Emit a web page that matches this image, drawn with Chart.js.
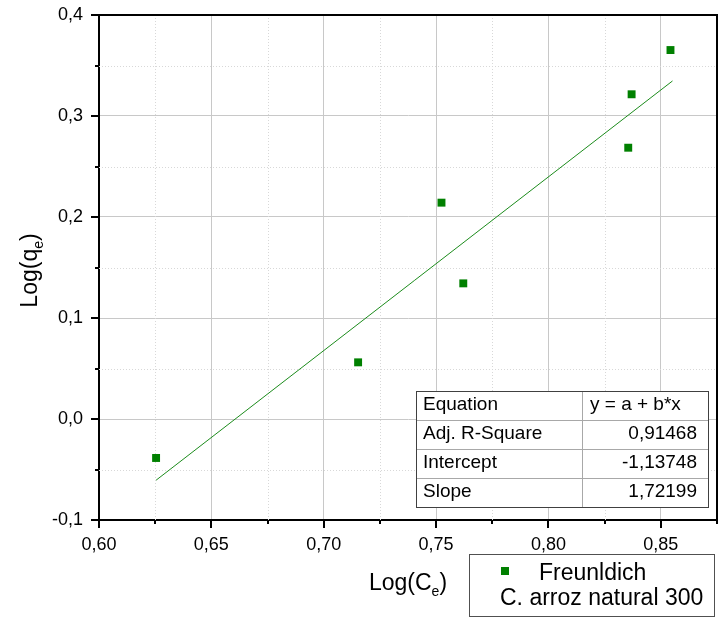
<!DOCTYPE html>
<html>
<head>
<meta charset="utf-8">
<script src="https://cdn.jsdelivr.net/npm/chart.js@4/dist/chart.umd.min.js"></script>
<style>
html,body{margin:0;padding:0;background:#fff;}
canvas{display:block;}
</style>
</head>
<body>
<canvas id="c" width="719" height="619"></canvas>
<script>
// ---- data ----
const logCe = [0.6254, 0.7153, 0.7524, 0.7621, 0.8355, 0.8370, 0.8543];
const logQe = [-0.0386, 0.0561, 0.2142, 0.1343, 0.2686, 0.3215, 0.3653];
const fitX = [0.6254, 0.8552];
const fitY = [-0.0606, 0.3347];
const seriesName = 'Freunldich';
const legendSub = 'C. arroz natural 300';
const tableRows = [
  ['Equation', 'y = a + b*x'],
  ['Adj. R-Square', '0,91468'],
  ['Intercept', '-1,13748'],
  ['Slope', '1,72199']
];
const xMin = 0.60, xMax = 0.875, xStep = 0.025;
const yMin = -0.1, yMax = 0.4, yStep = 0.05;

const FONT = '"Liberation Sans", Arial, sans-serif';
const GREEN = '#008000';

function isMajorX(v){ const k = Math.round(v*1000); return k % 50 === 0; }
function isMajorY(v){ const k = Math.round(v*1000); return k % 100 === 0; }

const decor = {
  id: 'decor',
  beforeDraw(chart){
    const c = chart.ctx;
    c.save(); c.fillStyle = '#fff'; c.fillRect(0,0,chart.width,chart.height); c.restore();
  },
  beforeDatasetsDraw(chart){
    const c = chart.ctx, a = chart.chartArea;
    const xs = chart.scales.x, ys = chart.scales.y;
    c.save();
    c.strokeStyle = '#d8d8d8';
    c.lineWidth = 1;
    c.setLineDash([1,2]);
    xs.ticks.forEach(t => {
      if (!isMajorX(t.value)) {
        const px = Math.round(xs.getPixelForValue(t.value)) + 0.5;
        if (px < a.right - 2) { c.beginPath(); c.moveTo(px, a.top); c.lineTo(px, a.bottom); c.stroke(); }
      }
    });
    ys.ticks.forEach(t => {
      if (!isMajorY(t.value)) {
        const py = Math.round(ys.getPixelForValue(t.value)) + 0.5;
        c.beginPath(); c.moveTo(a.left, py); c.lineTo(a.right, py); c.stroke();
      }
    });
    c.restore();
  },
  afterDraw(chart){
    const c = chart.ctx, a = chart.chartArea;
    const xs = chart.scales.x, ys = chart.scales.y;
    c.save();
    // frame top/right
    c.strokeStyle = '#000'; c.lineWidth = 2; c.setLineDash([]);
    c.beginPath(); c.moveTo(a.left, a.top); c.lineTo(a.right, a.top); c.lineTo(a.right, a.bottom); c.stroke();
    // ticks
    xs.ticks.forEach(t => {
      const px = Math.round(xs.getPixelForValue(t.value));
      const len = isMajorX(t.value) ? 8 : 4;
      c.beginPath(); c.moveTo(px, a.bottom); c.lineTo(px, a.bottom + len); c.stroke();
    });
    ys.ticks.forEach(t => {
      const py = Math.round(ys.getPixelForValue(t.value));
      const len = isMajorY(t.value) ? 8 : 4;
      c.beginPath(); c.moveTo(a.left, py); c.lineTo(a.left - len, py); c.stroke();
    });
    // axis titles with subscripts
    function subTitle(main, sub, x, y, rotate){
      c.save();
      c.translate(x, y);
      if (rotate) c.rotate(-Math.PI/2);
      c.fillStyle = '#000';
      c.textBaseline = 'alphabetic';
      c.font = '23px ' + FONT;
      const w1 = c.measureText(main).width;
      c.font = '14px ' + FONT;
      const w2 = c.measureText(sub).width;
      c.font = '23px ' + FONT;
      const w3 = c.measureText(')').width;
      const total = w1 + w2 + w3;
      let sx = -total/2;
      c.textAlign = 'left';
      c.fillText(main, sx, 0);
      c.font = '14px ' + FONT;
      c.fillText(sub, sx + w1, 6);
      c.font = '23px ' + FONT;
      c.fillText(')', sx + w1 + w2, 0);
      c.restore();
    }
    const cx = (a.left + a.right)/2;
    subTitle('Log(C', 'e', cx, 590, false);
    subTitle('Log(q', 'e', 37, (a.top + a.bottom)/2 + 3, true);

    // fit table
    const tx0 = 416, tx1 = 708, tcol = 582, ty0 = 391, rh = 29;
    c.fillStyle = '#fff';
    c.fillRect(tx0, ty0, tx1 - tx0, rh*tableRows.length);
    c.lineWidth = 1;
    c.strokeStyle = '#a8a8a8';
    for (let i = 1; i < tableRows.length; i++) {
      c.beginPath(); c.moveTo(tx0, ty0 + i*rh + 0.5); c.lineTo(tx1, ty0 + i*rh + 0.5); c.stroke();
    }
    c.beginPath(); c.moveTo(tcol + 0.5, ty0); c.lineTo(tcol + 0.5, ty0 + rh*tableRows.length); c.stroke();
    c.strokeStyle = '#404040';
    c.strokeRect(tx0 + 0.5, ty0 + 0.5, tx1 - tx0, rh*tableRows.length);
    c.fillStyle = '#000';
    c.font = '19px ' + FONT;
    c.textBaseline = 'alphabetic';
    tableRows.forEach((r, i) => {
      const by = ty0 + i*rh + 19;
      c.textAlign = 'left';
      c.fillText(r[0], 423, by);
      if (i === 0) { c.textAlign = 'left'; c.fillText(r[1], 590, by); }
      else { c.textAlign = 'right'; c.fillText(r[1], 697, by); }
    });

    // legend box
    const lx0 = 469, lx1 = 714, ly0 = 554, ly1 = 616;
    c.fillStyle = '#fff';
    c.fillRect(lx0, ly0, lx1 - lx0, ly1 - ly0);
    c.strokeStyle = '#505050';
    c.lineWidth = 1;
    c.strokeRect(lx0 + 0.5, ly0 + 0.5, lx1 - lx0, ly1 - ly0);
    c.fillStyle = GREEN;
    c.fillRect(501, 567, 8, 8);
    c.fillStyle = '#000';
    c.font = '23px ' + FONT;
    c.textAlign = 'left';
    c.fillText(seriesName, 539, 580);
    c.fillText(legendSub, 500, 605);
    c.restore();
  }
};

const scatterData = logCe.map((x, i) => ({x: x, y: logQe[i]}));
const fitData = fitX.map((x, i) => ({x: x, y: fitY[i]}));

const chart = new Chart(document.getElementById('c'), {
  type: 'scatter',
  data: {
    datasets: [
      {
        type: 'line',
        label: 'fit',
        data: fitData,
        borderColor: '#1c8c1c',
        borderWidth: 1,
        pointRadius: 0,
        fill: false,
        tension: 0,
        order: 2
      },
      {
        label: seriesName,
        data: scatterData,
        pointStyle: 'rect',
        pointRadius: 5.6,
        pointHoverRadius: 5.6,
        backgroundColor: GREEN,
        borderColor: GREEN,
        borderWidth: 0,
        order: 1
      }
    ]
  },
  options: {
    responsive: false,
    animation: false,
    events: [],
    layout: { padding: { left: 0, top: 15, right: 2, bottom: 0 } },
    plugins: { legend: { display: false }, tooltip: { enabled: false }, title: { display: false } },
    scales: {
      x: {
        type: 'linear',
        min: xMin, max: xMax,
        afterFit(s){ s.height = 99; s.paddingLeft = 0; s.paddingRight = 0; },
        afterBuildTicks(s){
          const t = [];
          for (let k = 0; k <= Math.round((xMax - xMin)/xStep); k++) t.push({value: +(xMin + k*xStep).toFixed(4)});
          s.ticks = t;
        },
        border: { color: '#000', width: 2 },
        grid: {
          drawTicks: false,
          lineWidth: 1,
          color: ctx => (ctx.tick && isMajorX(ctx.tick.value) && ctx.tick.value > xMin + 0.001 && ctx.tick.value < xMax - 0.001) ? '#c8c8c8' : 'rgba(0,0,0,0)'
        },
        ticks: {
          autoSkip: false,
          maxRotation: 0,
          padding: 14,
          color: '#000',
          font: { family: FONT, size: 18 },
          callback: v => (isMajorX(v) && v < 0.86) ? v.toFixed(2).replace('.', ',') : ''
        }
      },
      y: {
        type: 'linear',
        min: yMin, max: yMax,
        afterFit(s){ s.width = 99; s.paddingTop = 0; s.paddingBottom = 0; },
        afterBuildTicks(s){
          const t = [];
          for (let k = 0; k <= Math.round((yMax - yMin)/yStep); k++) t.push({value: +(yMin + k*yStep).toFixed(4)});
          s.ticks = t;
        },
        border: { color: '#000', width: 2 },
        grid: {
          drawTicks: false,
          lineWidth: 1,
          color: ctx => (ctx.tick && isMajorY(ctx.tick.value) && ctx.tick.value > yMin + 0.001 && ctx.tick.value < yMax - 0.001) ? '#c8c8c8' : 'rgba(0,0,0,0)'
        },
        ticks: {
          autoSkip: false,
          padding: 16,
          color: '#000',
          font: { family: FONT, size: 18 },
          callback: v => isMajorY(v) ? v.toFixed(1).replace('.', ',') : ''
        }
      }
    }
  },
  plugins: [decor]
});
// let the plot area reach the canvas edge like the reference (points are not clipped there)
chart.data.datasets.forEach((d, i) => { chart.getDatasetMeta(i).controller.getMaxOverflow = () => 0; });
chart.update();
</script>
</body>
</html>
